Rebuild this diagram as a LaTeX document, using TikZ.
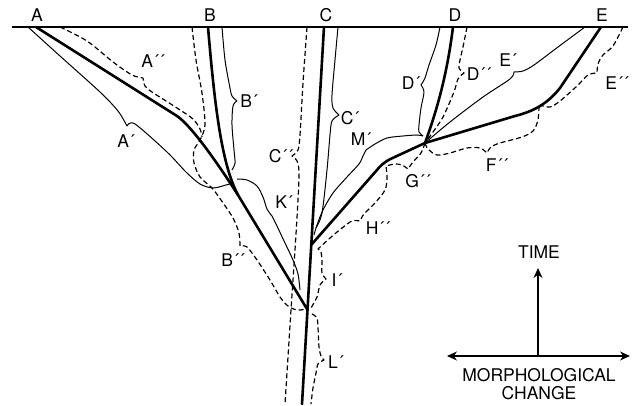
\documentclass[tikz,border=0pt]{standalone}
\usepackage{fontspec}
\setmainfont{TeX Gyre Heros}
\usetikzlibrary{arrows.meta,positioning}

\begin{document}
\begin{tikzpicture}[x=1pt,y=-1pt,
    lineage/.style={line width=2.6pt,line cap=round,line join=round},
    horizon/.style={line width=1.3pt},
    thinbrace/.style={line width=1pt,line join=round},
    dashbrace/.style={line width=1.2pt,line join=round,dash pattern=on 5pt off 3pt},
    lbl/.style={font=\fontsize{17.5}{18}\selectfont,inner sep=0pt},
    axis/.style={line width=1.3pt}]
  \useasboundingbox (0,0) rectangle (633,406);

  % top of the lineages and the branch points
  \coordinate (west) at (12,27);
  \coordinate (east) at (628,27);
  \coordinate (a) at (36,27);
  \coordinate (b) at (208,27);
  \coordinate (c) at (324,27);
  \coordinate (d) at (453,27);
  \coordinate (e) at (601,27);
  \coordinate (ab) at (238,195);
  \coordinate (bc) at (307,309);
  \coordinate (cm) at (312,244);
  \coordinate (de) at (425,143);
  \coordinate (base) at (302,404);

  \node[lbl] (A) at (37,15) {A};
  \node[lbl] (B) at (210,15) {B};
  \node[lbl] (C) at (326,15) {C};
  \node[lbl] (D) at (455,15) {D};
  \node[lbl] (E) at (602,15) {E};

  \draw[horizon] (west) -- (east);

  % lineages
  \draw[lineage] (c) -- (base);
  \draw[lineage] (b) .. controls (215,110) and (222,165) .. (ab) -- (bc);
  \draw[lineage] (a) -- (177,116) .. controls (193,127) and (222,170) .. (ab);
  \draw[lineage] (d) .. controls (447,75) and (437,110) .. (de);
  \draw[lineage] (e) -- (560,88) .. controls (548,103) and (535,111) .. (515,116) -- (de);
  \draw[lineage,rounded corners=7pt] (de) -- (384,162) -- (cm);

  % solid braces
  \draw[thinbrace] plot[smooth] coordinates {(28,27) (60,56) (100,92) (118,111) (127,126)}
    -- plot[smooth] coordinates {(127,126) (135,124) (167,152) (186,172) (200,184) (213,188) (226,185) (233,183)};
  \draw[thinbrace] plot[smooth] coordinates {(222,27) (225,60) (230,88) (232,96) (237,101)}
    -- plot[smooth] coordinates {(237,101) (233,106) (232,125) (234,150) (235,163) (232,170)};
  \draw[thinbrace] plot[smooth] coordinates {(237,179) (247,180) (257,186) (263,197) (267,209) (272,216)}
    -- plot[smooth] coordinates {(272,216) (276,224) (285,243) (293,260) (298,274) (300,290)};
  \draw[thinbrace] plot[smooth] coordinates {(338,27) (335,60) (332,95) (333,108) (339,115)}
    -- plot[smooth] coordinates {(339,115) (332,121) (330,135) (327,170) (322,213) (316,228)};
  \draw[thinbrace] plot[smooth] coordinates {(440,27) (436,45) (429,65) (425,78) (421,85)}
    -- plot[smooth] coordinates {(421,85) (424,92) (421,108) (419,125) (419,132) (423,136)};
  \draw[thinbrace] plot[smooth] coordinates {(423,136) (417,135) (403,136) (387,138) (375,144) (366,150)}
    -- plot[smooth] coordinates {(366,150) (363,156) (359,164) (347,177) (333,193) (323,210) (317,225) (314,235)};
  \draw[thinbrace] plot[smooth] coordinates {(585,27) (558,47) (534,65) (523,71) (514,72)}
    -- plot[smooth] coordinates {(514,72) (510,79) (483,97) (450,122) (de)};

  % dashed braces
  \draw[dashbrace] plot[smooth] coordinates {(60,27) (87,41) (113,62) (132,75) (143,78)}
    -- plot[smooth] coordinates {(143,78) (145,86) (152,92) (177,108) (193,119) (200,129) (202,137)};
  \draw[dashbrace] plot[smooth] coordinates {(192,27) (196,60) (202,93) (205,125) (200,140) (194,150) (194,163) (200,177) (212,188) (221,200) (233,218) (239,233) (240,246)}
    -- plot[smooth] coordinates {(240,246) (247,247) (257,260) (270,280) (280,297) (288,306) (297,310) (bc)};
  \draw[dashbrace] plot[smooth] coordinates {(307,27) (303,83) (300,135) (298,150) (292,156)}
    -- plot[smooth] coordinates {(292,156) (297,161) (299,172) (298,200) (295,250) (291,310) (285,404)};
  \draw[dashbrace] plot[smooth] coordinates {(467,27) (463,47) (460,60) (459,68) (464,73)}
    -- plot[smooth] coordinates {(464,73) (458,79) (454,92) (443,117) (433,132) (de)};
  \draw[dashbrace] plot[smooth] coordinates {(623,27) (613,46) (603,55) (598,64) (597,73)}
    -- plot[smooth] coordinates {(597,73) (588,75) (577,86) (560,101) (550,107) (540,105)};
  \draw[dashbrace] plot[smooth] coordinates {(539,106) (538,120) (533,131) (522,137) (500,143) (491,147) (487,153)}
    -- plot[smooth] coordinates {(487,153) (480,148) (467,148) (450,153) (437,155) (428,149) (de)};
  \draw[dashbrace] plot[smooth] coordinates {(de) (421,153) (413,162) (408,169)}
    -- plot[smooth] coordinates {(408,169) (402,165) (395,164) (386,166)}
    -- plot[smooth] coordinates {(386,166) (387,178) (385,190) (375,203) (364,214) (360,221)}
    -- plot[smooth] coordinates {(360,221) (352,221) (342,228) (330,238) (318,249)}
    -- plot[smooth] coordinates {(318,249) (321,252) (322,262) (322,273) (326,279)}
    -- plot[smooth] coordinates {(326,279) (320,285) (317,297) (311,308)};
  \draw[dashbrace] plot[smooth] coordinates {(312,314) (317,318) (318,328) (319,347) (321,356) (324,360)}
    -- plot[smooth] coordinates {(324,360) (318,364) (316,373) (313,388) (311,404)};

  % brace labels
  \node[lbl] (Ap)  at (126,141) {A´};
  \node[lbl] (App) at (153,61)  {A´´};
  \node[lbl] (Bp)  at (249,101) {B´};
  \node[lbl] (Bpp) at (233,260) {B´´};
  \node[lbl] (Cp)  at (350,118) {C´};
  \node[lbl] (Cpp) at (281,156) {C´´};
  \node[lbl] (Dp)  at (411,83)  {D´};
  \node[lbl] (Dpp) at (479,74)  {D´´};
  \node[lbl] (Ep)  at (508,60)  {E´};
  \node[lbl] (Epp) at (617,83)  {E´´};
  \node[lbl] (Fpp) at (497,165) {F´´};
  \node[lbl] (Gpp) at (418,181) {G´´};
  \node[lbl] (Hpp) at (378,228) {H´´};
  \node[lbl] (Ip)  at (337,280) {I´};
  \node[lbl] (Kp)  at (284,202) {K´};
  \node[lbl] (Lp)  at (336,362) {L´};
  \node[lbl] (Mp)  at (361,139) {M´};

  % axes
  \coordinate (origin) at (538,356);
  \coordinate (left) at (447,356);
  \coordinate (right) at (630,356);
  \coordinate (up) at (538,268);
  \draw[axis,{Stealth[length=10pt,width=9pt]}-{Stealth[length=10pt,width=9pt]}] (left) -- (right);
  \draw[axis,-{Stealth[length=10pt,width=9pt]}] (origin) -- (up);
  \node[lbl] (time) at (539,252) {TIME};
  \node[lbl,align=center] (morph) at (539,384) {MORPHOLOGICAL\\CHANGE};
\end{tikzpicture}
\end{document}
